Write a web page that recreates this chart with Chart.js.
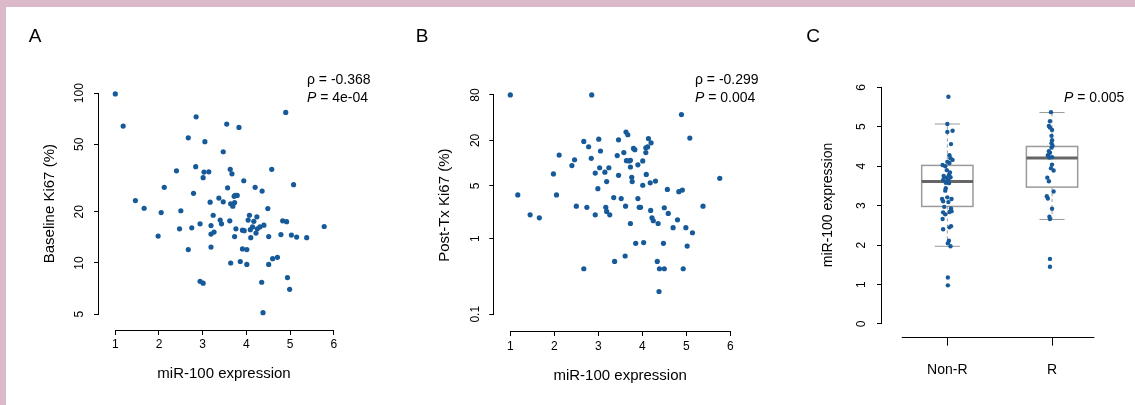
<!DOCTYPE html>
<html>
<head>
  <title>miR-100 expression and Ki67</title>
  <style>
    body {
      margin: 0;
      font-family: 'Liberation Sans', Arial, sans-serif;
    }
    #page {
      position: relative;
      width: 1135px;
      height: 405px;
      background: #dbb8ca;
      overflow: hidden;
    }
    #sheet {
      position: absolute;
      left: 6px;
      top: 7px;
      right: 0;
      bottom: 0;
      background: #fff;
    }
    canvas {
      position: absolute;
      top: 0;
    }
  </style>
</head>
<body>
  <div id="page">
    <div id="sheet"></div>
    <canvas id="chartA" width="380" height="405" style="left:0"></canvas>
    <canvas id="chartB" width="385" height="405" style="left:380px"></canvas>
    <canvas id="chartC" width="370" height="405" style="left:765px"></canvas>
  </div>

  <script src="https://cdn.jsdelivr.net/npm/chart.js"></script>
  <script>
    // tick labels
    const xTicks = [1, 2, 3, 4, 5, 6];
    const baselineTicks = [5, 10, 20, 50, 100];
    const postTicks = [0.1, 1, 5, 20, 80];
    const exprTicks = [0, 1, 2, 3, 4, 5, 6];
    const groups = ['Non-R', 'R'];

    // A: miR-100 expression vs baseline Ki67 (%)
    const baselineMiR = [1.00, 1.18, 2.85, 4.90, 3.55, 3.83, 2.67, 3.05, 3.47, 2.40,
      2.84, 3.03, 3.14, 3.01, 3.63, 3.67, 4.58, 3.94, 5.08, 2.12,
      3.57, 4.20, 4.36, 2.79, 3.74, 3.79, 3.72, 3.37, 3.47, 3.17,
      3.64, 3.73, 3.69, 1.46, 1.66, 2.05, 2.50, 4.49, 3.24, 3.40,
      3.43, 3.62, 4.07, 4.24, 4.04, 4.17, 4.83, 4.92, 5.78, 2.94,
      3.19, 2.47, 2.75, 3.76, 3.91, 3.95, 4.09, 4.14, 4.25, 4.31,
      4.40, 4.22, 4.10, 4.51, 4.79, 5.03, 5.15, 5.38, 1.98, 3.19,
      3.26, 3.73, 2.67, 3.19, 3.91, 4.01, 3.64, 3.86, 4.01, 4.51,
      4.60, 4.71, 2.94, 3.01, 4.35, 4.94, 4.99, 4.38];
    const baselineKi67 = [99, 64, 72.6, 77, 65.8, 62.8, 54.6, 51.8, 45.2, 34.9,
      36.9, 34.3, 34.4, 31.8, 35.6, 33.5, 35.6, 30.5, 28.9, 27.9,
      27.7, 27.9, 26.5, 25.7, 25.0, 25.0, 24.7, 24.1, 22.9, 22.8,
      22.3, 22.7, 21.6, 23.3, 21.0, 19.8, 20.3, 20.9, 19.1, 17.9,
      17.0, 17.7, 19.1, 18.7, 17.9, 17.6, 17.7, 17.5, 16.4, 17.0,
      16.6, 15.9, 16.1, 15.9, 15.6, 15.5, 15.7, 16.3, 15.9, 16.3,
      16.7, 15.0, 14.1, 14.3, 14.7, 14.6, 14.2, 14.1, 14.4, 14.8,
      15.2, 14.3, 12.0, 12.4, 12.1, 12.0, 10.0, 10.2, 9.8, 9.8,
      10.6, 10.8, 7.8, 7.6, 7.7, 8.2, 7.0, 5.1];

    // B: miR-100 expression vs post-treatment Ki67 (%)
    const postMiR = [1.00, 2.85, 4.89, 5.08, 3.63, 3.67, 2.67, 3.01, 3.46, 4.14,
      4.20, 2.78, 3.05, 3.58, 3.80, 3.83, 4.08, 4.12, 4.08, 2.11,
      2.84, 3.43, 2.46, 2.40, 1.98, 3.03, 2.93, 3.15, 3.19, 3.24,
      3.64, 3.70, 3.73, 3.73, 3.90, 4.01, 4.09, 4.18, 4.30, 3.46,
      3.76, 3.77, 2.99, 4.01, 4.57, 4.83, 4.91, 5.76, 1.17, 2.05,
      3.35, 3.52, 3.90, 3.62, 2.50, 2.74, 3.17, 3.93, 3.96, 4.50,
      5.38, 2.93, 3.19, 3.26, 1.45, 1.66, 4.19, 4.59, 4.80, 4.22,
      4.25, 4.36, 3.73, 4.70, 4.99, 5.14, 3.85, 4.03, 4.48, 5.02,
      3.61, 3.37, 4.34, 2.67, 4.39, 4.50, 4.93, 4.38];
    const postKi67 = [80, 80, 44, 21.5, 25.8, 23.8, 19.4, 20.8, 20.4, 21.2,
      18.6, 16.5, 14.5, 13.8, 15.7, 15.1, 16.0, 16.4, 13.8, 12.8,
      11.6, 12.6, 11.1, 9.3, 7.2, 8.7, 7.4, 7.6, 5.7, 8.7,
      10.8, 10.7, 10.9, 8.9, 9.5, 10.7, 7.1, 5.5, 5.8, 6.9,
      6.5, 5.7, 4.6, 5.1, 4.5, 4.2, 4.4, 6.3, 3.8, 3.8,
      3.5, 3.4, 3.4, 2.7, 2.7, 2.6, 2.6, 2.6, 2.6, 2.57,
      2.7, 2.07, 2.3, 2.07, 2.07, 1.89, 2.37, 2.16, 1.78, 1.89,
      1.73, 1.59, 1.59, 1.40, 1.40, 1.2, 0.87, 0.89, 0.87, 0.80,
      0.59, 0.50, 0.50, 0.40, 0.40, 0.40, 0.40, 0.2];

    // C: miR-100 expression by response, with stripchart jitter (group units)
    const nonRExpr = [5.76, 5.07, 4.87, 4.90, 4.56, 4.28, 4.20, 4.16, 4.11, 4.08,
      4.03, 4.00, 3.90, 3.84, 3.78, 3.75, 3.71, 3.72, 3.65, 3.65,
      3.61, 3.58, 3.57, 3.44, 3.38, 3.21, 3.17, 3.17, 3.11, 3.09,
      2.93, 2.97, 2.84, 2.83, 2.78, 2.86, 2.66, 2.48, 2.45, 2.40,
      2.11, 2.05, 1.97, 1.18, 0.98];
    const nonRJitter = [0.01, 0.00, 0.00, 0.05, 0.035, 0.02, 0.03, 0.05, 0.00, 0.02,
      -0.045, -0.02, -0.005, 0.025, 0.015, -0.035, -0.01, 0.03, 0.01, -0.04,
      -0.005, -0.015, 0.015, -0.015, -0.02, 0.00, -0.05, 0.04, -0.04, 0.01,
      0.035, -0.03, 0.02, -0.04, -0.02, 0.04, -0.045, 0.035, 0.02, -0.04,
      0.015, 0.005, 0.03, 0.005, 0.005];
    const rExpr = [5.37, 5.14, 5.02, 4.98, 4.92, 4.77, 4.66, 4.58, 4.52, 4.47,
      4.38, 4.34, 4.28, 4.22, 4.23, 4.04, 3.95, 3.89, 3.71, 3.62,
      3.36, 3.24, 3.18, 2.92, 2.72, 2.66, 1.65, 1.45];
    const rJitter = [-0.01, -0.02, -0.03, -0.02, 0.00, -0.005, 0.00, -0.005, 0.005, -0.005,
      -0.03, -0.02, -0.04, -0.025, 0.00, 0.00, -0.01, 0.015, -0.045, -0.03,
      0.015, -0.05, -0.04, 0.00, -0.025, -0.02, -0.02, -0.02];
    // lower whisker, Q1, median, Q3, upper whisker
    const nonRBox = [1.97, 2.98, 3.61, 4.02, 5.07];
    const rBox = [2.65, 3.47, 4.21, 4.50, 5.36];

    const DOT = '#175a9a';
    Chart.defaults.font.family = "'Liberation Sans', Arial, sans-serif";
    Chart.defaults.color = '#000';

    function line(ctx, x1, y1, x2, y2) {
      ctx.beginPath();
      ctx.moveTo(x1, y1);
      ctx.lineTo(x2, y2);
      ctx.stroke();
    }

    // R-like axes (line only between end ticks), rotated y labels, boxes, annotations
    const rStyle = {
      id: 'rStyle',
      beforeDatasetsDraw(chart, args, o) {
        if (!o.boxes) return;
        const { ctx, scales: { x, y } } = chart;
        o.boxes.forEach((b, i) => {
          const cx = x.getPixelForValue(i + 1);
          const hw = x.getPixelForValue(i + 1.245) - cx;
          const cw = x.getPixelForValue(i + 1.12) - cx;
          const [lo, q1, med, q3, hi] = b.map(v => y.getPixelForValue(v));
          ctx.save();
          ctx.strokeStyle = '#9a9a9a';
          ctx.lineWidth = 1;
          ctx.setLineDash([3, 3]);
          line(ctx, cx, q3, cx, hi);
          line(ctx, cx, q1, cx, lo);
          ctx.setLineDash([]);
          line(ctx, cx - cw, hi, cx + cw, hi);
          line(ctx, cx - cw, lo, cx + cw, lo);
          ctx.lineWidth = 1.5;
          ctx.strokeRect(cx - hw, q3, 2 * hw, q1 - q3);
          ctx.strokeStyle = '#666';
          ctx.lineWidth = 3;
          line(ctx, cx - hw, med, cx + hw, med);
          ctx.restore();
        });
      },
      afterDraw(chart, args, o) {
        const { ctx, chartArea: a, scales: { x, y } } = chart;
        const yt = y.ticks, xt = x.ticks;
        ctx.save();
        ctx.strokeStyle = '#000';
        ctx.lineWidth = 1;
        const ax = Math.round(a.left) - 0.5;
        line(ctx, ax, y.getPixelForValue(yt[0].value), ax, y.getPixelForValue(yt[yt.length - 1].value));
        const ay = Math.round(a.bottom) + 0.5;
        const xs = o.xLine || [xt[0].value, xt[xt.length - 1].value];
        line(ctx, x.getPixelForValue(xs[0]), ay, x.getPixelForValue(xs[1]), ay);

        ctx.fillStyle = '#000';
        ctx.font = '12px ' + Chart.defaults.font.family;
        ctx.textAlign = 'center';
        ctx.textBaseline = 'middle';
        yt.forEach(t => {
          ctx.save();
          ctx.translate(a.left - o.yLabelGap, y.getPixelForValue(t.value));
          ctx.rotate(-Math.PI / 2);
          ctx.fillText(String(t.value), 0, 0);
          ctx.restore();
        });

        ctx.font = '19px ' + Chart.defaults.font.family;
        ctx.fillText(o.letter, o.letterX, 37);

        ctx.textAlign = 'left';
        o.stats.forEach(s => {
          let px = o.statX;
          if (s.it) {
            ctx.font = 'italic 14px ' + Chart.defaults.font.family;
            ctx.fillText(s.it, px, s.y);
            px += ctx.measureText(s.it).width;
          }
          ctx.font = '14px ' + Chart.defaults.font.family;
          ctx.fillText(s.txt, px, s.y);
        });
        ctx.restore();
      }
    };

    function makeChart(id, datasets, o) {
      return new Chart(document.getElementById(id), {
        type: 'scatter',
        data: { datasets },
        options: {
          responsive: false,
          animation: false,
          events: [],
          layout: { padding: o.pad },
          scales: {
            x: {
              type: 'linear',
              bounds: 'data',
              min: o.xMin,
              max: o.xMax,
              afterBuildTicks: s => { s.ticks = o.xTicks.map(v => ({ value: v })); },
              afterFit: s => { s.height = o.xH; },
              border: { display: false },
              grid: { drawOnChartArea: false, tickLength: o.xTickLen, color: '#000' },
              ticks: {
                color: '#000', font: { size: o.xFont }, padding: o.xPad,
                maxRotation: 0, autoSkip: false, callback: o.xLabel
              },
              title: {
                display: !!o.xTitle, text: o.xTitle, color: '#000',
                font: { size: 15 }, padding: { top: 0, bottom: o.xTitlePad }
              }
            },
            y: {
              type: o.yType,
              bounds: 'data',
              min: o.yMin,
              max: o.yMax,
              afterBuildTicks: s => { s.ticks = o.yTicks.map(v => ({ value: v })); },
              afterFit: s => { s.width = o.yW; },
              border: { display: false },
              grid: { drawOnChartArea: false, tickLength: 5, color: '#000' },
              ticks: { display: false },
              title: {
                display: true, text: o.yTitle, color: '#000',
                font: { size: o.yTitleFont }, padding: { top: o.yTitlePad, bottom: 0 }
              }
            }
          },
          plugins: {
            legend: { display: false },
            tooltip: { enabled: false },
            rStyle: o.deco
          }
        },
        plugins: [rStyle]
      });
    }

    function points(xs, ys) {
      return xs.map((v, i) => ({ x: v, y: ys[i] }));
    }

    makeChart('chartA', [{
      data: points(baselineMiR, baselineKi67),
      backgroundColor: DOT, borderWidth: 0, pointRadius: 2.6
    }], {
      pad: { left: 0, right: 31, top: 77.3, bottom: 0 },
      xMin: 0.627, xMax: 6.348, xTicks: xTicks, xH: 75, xTickLen: 5, xFont: 12, xPad: 2.8,
      xTitle: 'miR-100 expression', xTitlePad: 22,
      yType: 'logarithmic', yMin: 4.03, yMax: 124, yTicks: baselineTicks, yW: 99,
      yTitle: 'Baseline Ki67 (%)', yTitleFont: 15, yTitlePad: 41,
      deco: {
        letter: 'A', letterX: 35, yLabelGap: 19, statX: 307,
        stats: [{ it: '', txt: 'ρ = -0.368', y: 80 }, { it: 'P', txt: ' = 4e-04', y: 98 }]
      }
    });

    makeChart('chartB', [{
      data: points(postMiR, postKi67),
      backgroundColor: DOT, borderWidth: 0, pointRadius: 2.6
    }], {
      pad: { left: 0, right: 19, top: 79.3, bottom: 0 },
      xMin: 0.636, xMax: 6.357, xTicks: xTicks, xH: 74, xTickLen: 5, xFont: 12, xPad: 3.8,
      xTitle: 'miR-100 expression', xTitlePad: 20,
      yType: 'logarithmic', yMin: 0.06, yMax: 129, yTicks: postTicks, yW: 114.3,
      yTitle: 'Post-Tx Ki67 (%)', yTitleFont: 15, yTitlePad: 56,
      deco: {
        letter: 'B', letterX: 42, yLabelGap: 19, statX: 315,
        stats: [{ it: '', txt: 'ρ = -0.299', y: 80 }, { it: 'P', txt: ' = 0.004', y: 98 }]
      }
    });

    makeChart('chartC', [{
      data: points(nonRJitter.map(d => 1 + d), nonRExpr),
      backgroundColor: DOT, borderWidth: 0, pointRadius: 2.2
    }, {
      data: points(rJitter.map(d => 2 + d), rExpr),
      backgroundColor: DOT, borderWidth: 0, pointRadius: 2.2
    }], {
      pad: { left: 0, right: 35, top: 73.3, bottom: 0 },
      xMin: 0.376, xMax: 2.458, xTicks: [1, 2], xH: 68.3, xTickLen: 9, xFont: 14, xPad: 15.9,
      xLabel: v => groups[v - 1],
      yType: 'linear', yMin: -0.322, yMax: 6.355, yTicks: exprTicks, yW: 117,
      yTitle: 'miR-100 expression', yTitleFont: 14, yTitlePad: 54.6,
      deco: {
        letter: 'C', letterX: 48, yLabelGap: 20, statX: 299, xLine: [0.565, 2.404],
        boxes: [nonRBox, rBox],
        stats: [{ it: 'P', txt: ' = 0.005', y: 98 }]
      }
    });
  </script>
</body>
</html>
